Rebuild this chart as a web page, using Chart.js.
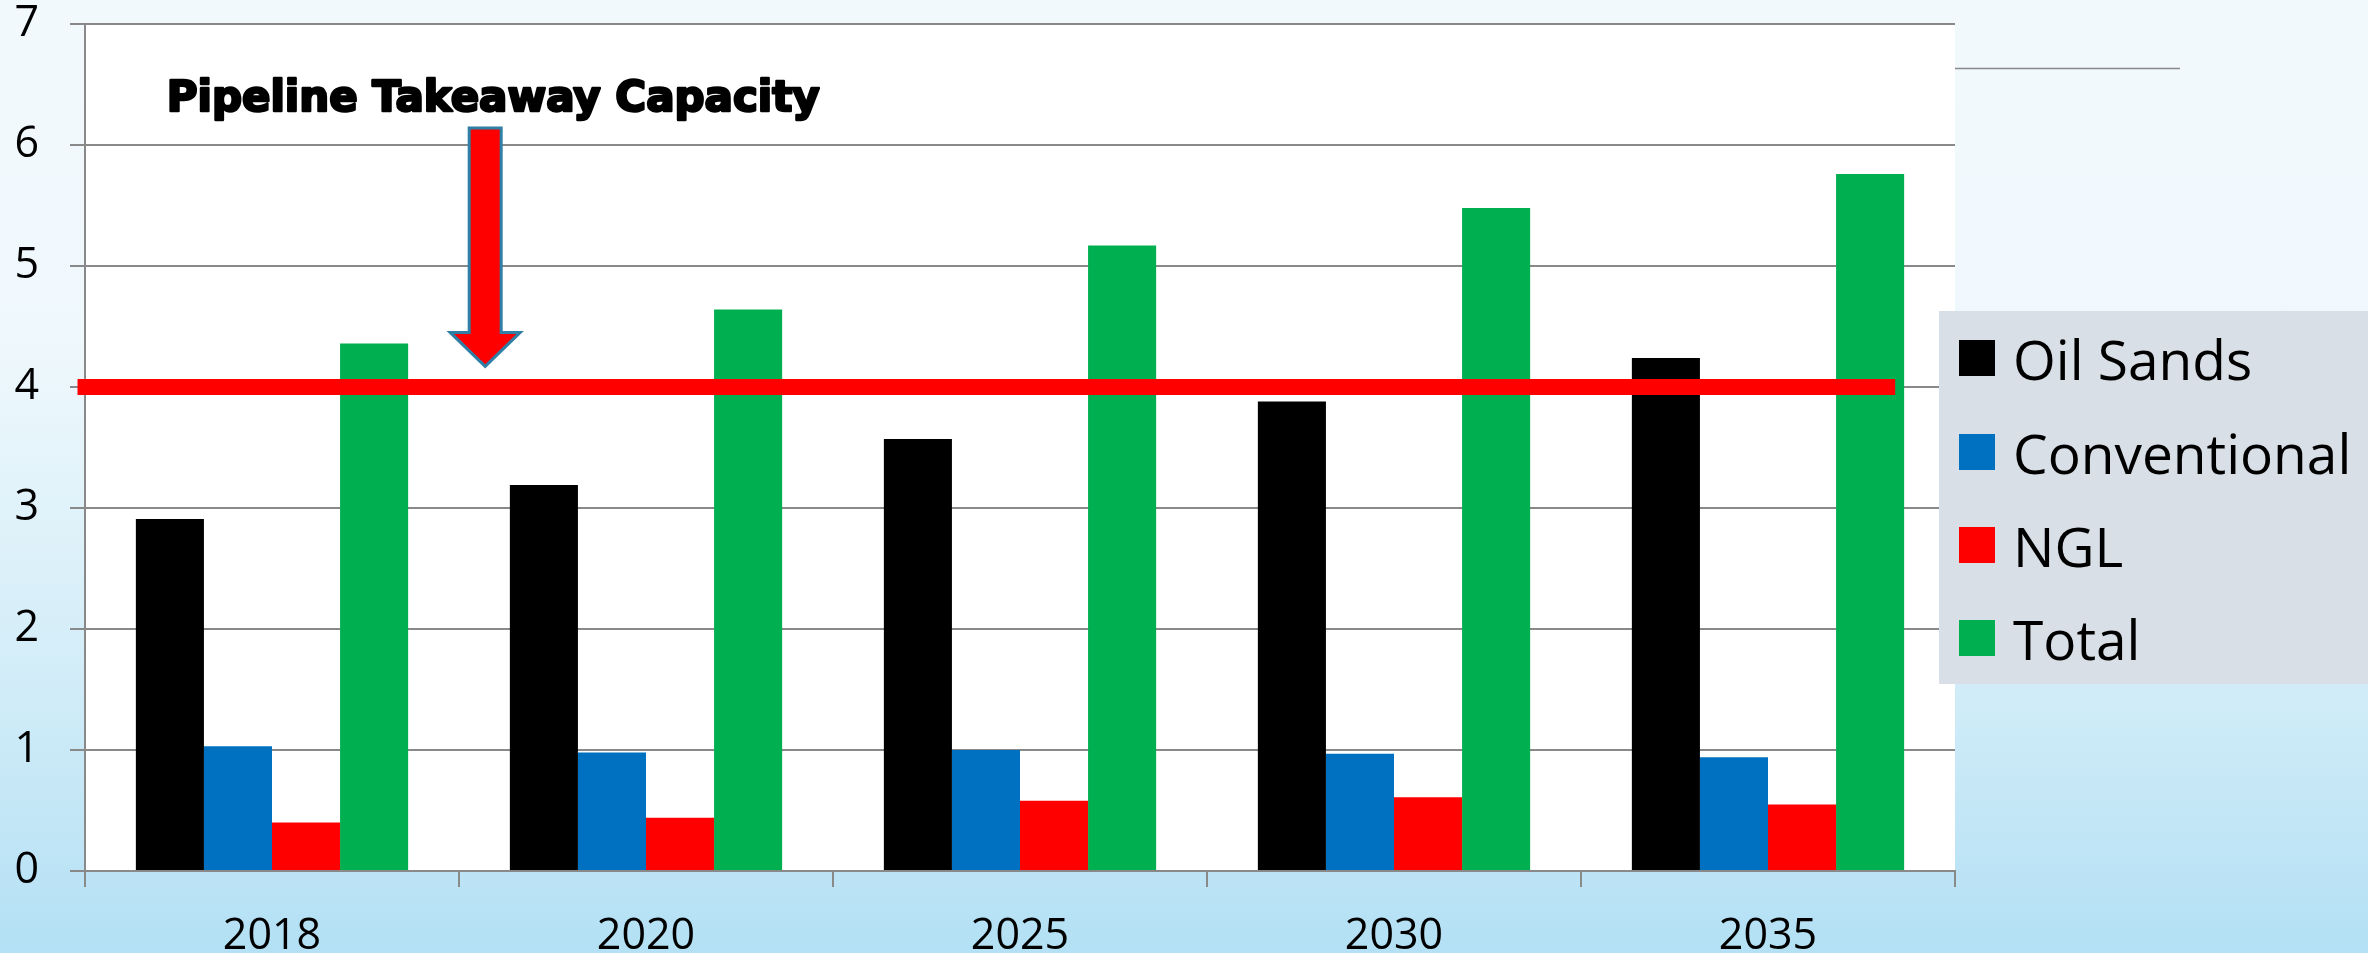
<!DOCTYPE html>
<html>
<head>
<meta charset="utf-8">
<script src="https://cdn.jsdelivr.net/npm/chart.js@4"></script>
<style>
    html, body { margin: 0; padding: 0; }
    body {
        width: 2368px; height: 953px; overflow: hidden; position: relative;
        background: linear-gradient(to bottom, #F2F9FD 0%, #EFF8FC 35%, #D3EDF8 70%, #B3E0F4 100%);
        font-family: "Open Sans", sans-serif;
    }
    #wrap { position: absolute; left: 0; top: 0; width: 2368px; height: 953px; }
    .legend-box {
        position: absolute; left: 1939px; top: 311px; width: 429px; height: 373px;
        background: #D9DFE6;
    }
    .legend-item {
        position: absolute; left: 20px; height: 60px; display: flex; align-items: center;
        font-size: 55px; color: #000; white-space: nowrap;
    }
    .legend-swatch { width: 36px; height: 36px; margin-right: 18px; flex: none; }
</style>
</head>
<body>
<div id="wrap"><canvas id="chart" width="2368" height="953"></canvas></div>
<div class="legend-box" id="legend"></div>
<script>
// --- Data ---
const categories = ['2018', '2020', '2025', '2030', '2035'];
const oilSands = [2.91, 3.19, 3.57, 3.88, 4.24];
const conventional = [1.03, 0.98, 1.00, 0.97, 0.94];
const ngl = [0.40, 0.44, 0.58, 0.61, 0.55];
const total = [4.36, 4.64, 5.17, 5.48, 5.76];

const seriesLabels = ['Oil Sands', 'Conventional', 'NGL', 'Total'];
const seriesColors = ['#000000', '#0070C0', '#FF0000', '#00B050'];

// pipeline takeaway capacity and the horizontal span of its line (category units)
const capacity = 4;
const capacitySpan = [-0.52, 4.34];

// arrow annotation: x in category units, tip / top in axis values
const arrowX = 0.57;
const arrowTip = 4.17;
const arrowTop = 6.14;
const annotationText = 'Pipeline Takeaway Capacity';
const annotationY = 6.28;

const yMin = 0, yMax = 7, yStep = 1;

const GRID = '#898989';

// --- Plugins ---
const plotBackground = {
    id: 'plotBackground',
    beforeDraw(chart) {
        const { ctx, chartArea: a } = chart;
        ctx.save();
        ctx.fillStyle = '#FFFFFF';
        ctx.fillRect(a.left, a.top, a.right - a.left, a.bottom - a.top);
        ctx.restore();
    }
};

// capacity line, arrow and its label, drawn on top of the bars
const capacityNote = {
    id: 'capacityNote',
    afterDatasetsDraw(chart) {
        const { ctx } = chart;
        const xs = chart.scales.x, ys = chart.scales.y;

        ctx.save();
        // capacity line
        const yc = ys.getPixelForValue(capacity);
        ctx.strokeStyle = '#FF0000';
        ctx.lineWidth = 16;
        ctx.lineCap = 'butt';
        ctx.beginPath();
        ctx.moveTo(xs.getPixelForValue(capacitySpan[0]), yc);
        ctx.lineTo(xs.getPixelForValue(capacitySpan[1]), yc);
        ctx.stroke();

        // arrow
        const cx = xs.getPixelForValue(arrowX);
        const tip = ys.getPixelForValue(arrowTip);
        const top = ys.getPixelForValue(arrowTop);
        const shaftHalf = 16, headHalf = 35, headLen = 34;
        ctx.beginPath();
        ctx.moveTo(cx - shaftHalf, top);
        ctx.lineTo(cx + shaftHalf, top);
        ctx.lineTo(cx + shaftHalf, tip - headLen);
        ctx.lineTo(cx + headHalf, tip - headLen);
        ctx.lineTo(cx, tip);
        ctx.lineTo(cx - headHalf, tip - headLen);
        ctx.lineTo(cx - shaftHalf, tip - headLen);
        ctx.closePath();
        ctx.fillStyle = '#FF0000';
        ctx.fill();
        ctx.lineWidth = 3;
        ctx.lineJoin = 'miter';
        ctx.strokeStyle = '#2F7FA6';
        ctx.stroke();

        // label above the arrow
        ctx.font = 'bold 42px "DejaVu Sans", sans-serif';
        ctx.fillStyle = '#000';
        ctx.strokeStyle = '#000';
        ctx.lineWidth = 2.5;
        ctx.lineJoin = 'round';
        ctx.textAlign = 'center';
        ctx.textBaseline = 'alphabetic';
        const ty = ys.getPixelForValue(annotationY);
        ctx.strokeText(annotationText, cx + 8, ty);
        ctx.fillText(annotationText, cx + 8, ty);

        // stray rule to the right of the plot
        ctx.strokeStyle = GRID;
        ctx.lineWidth = 1.5;
        ctx.beginPath();
        ctx.moveTo(chart.chartArea.right, 68.5);
        ctx.lineTo(2180, 68.5);
        ctx.stroke();
        ctx.restore();
    }
};

// --- Chart ---
const seriesValues = [oilSands, conventional, ngl, total];

new Chart(document.getElementById('chart'), {
    type: 'bar',
    data: {
        labels: categories,
        datasets: seriesValues.map((values, i) => ({
            label: seriesLabels[i],
            data: values,
            backgroundColor: seriesColors[i],
            borderWidth: 0
        }))
    },
    options: {
        responsive: false,
        animation: false,
        datasets: { bar: { categoryPercentage: 0.728, barPercentage: 1.0 } },
        layout: { padding: { top: 24, right: 413, bottom: 0, left: 0 } },
        plugins: {
            legend: { display: false },
            tooltip: { enabled: false }
        },
        scales: {
            x: {
                offset: true,
                grid: {
                    display: true, offset: true, drawOnChartArea: false, drawTicks: true,
                    tickLength: 16, color: GRID, lineWidth: 2
                },
                border: { display: true, color: GRID, width: 2 },
                ticks: {
                    color: '#000', padding: 24,
                    font: { family: '"Open Sans", sans-serif', size: 43 }
                },
                afterFit(scale) { scale.height = 82; }
            },
            y: {
                min: yMin, max: yMax,
                ticks: {
                    stepSize: yStep, color: '#000', padding: 31,
                    font: { family: '"Open Sans", sans-serif', size: 43 }
                },
                grid: { color: GRID, lineWidth: 2, tickLength: 15, drawTicks: true },
                border: { display: true, color: GRID, width: 2 },
                afterFit(scale) { scale.width = 85; scale.paddingTop = 0; }
            }
        }
    },
    plugins: [plotBackground, capacityNote]
});

// --- HTML legend ---
const legendEl = document.getElementById('legend');
const legendCenters = [47, 141, 234, 327];
seriesLabels.forEach((label, i) => {
    const item = document.createElement('div');
    item.className = 'legend-item';
    item.style.top = (legendCenters[i] - 30) + 'px';
    item.innerHTML = `<span class="legend-swatch" style="background:${seriesColors[i]}"></span><span>${label}</span>`;
    legendEl.appendChild(item);
});
</script>
</body>
</html>
